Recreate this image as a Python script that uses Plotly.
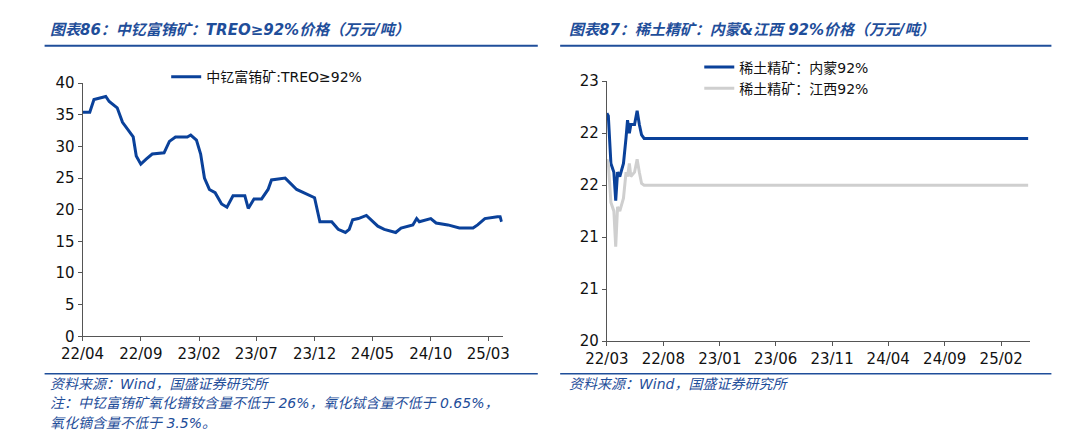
import plotly.graph_objects as go

# 左图：中钇富铕矿 TREO≥92%
left_dates = ["2022-04-01", "2022-04-20", "2022-05-01", "2022-06-01", "2022-06-10", "2022-07-01",
              "2022-07-15", "2022-08-01", "2022-08-12", "2022-08-20", "2022-09-01", "2022-09-15",
              "2022-10-01", "2022-11-01", "2022-11-15", "2022-12-01", "2023-01-01", "2023-01-10",
              "2023-01-25", "2023-02-05", "2023-02-15", "2023-02-28", "2023-03-15", "2023-04-01",
              "2023-04-15", "2023-05-01", "2023-06-01", "2023-06-10", "2023-06-25", "2023-07-15",
              "2023-08-01", "2023-08-10", "2023-09-15", "2023-10-15", "2023-11-15", "2023-12-01",
              "2023-12-15", "2024-01-15", "2024-02-01", "2024-02-20", "2024-03-01", "2024-03-10",
              "2024-03-25", "2024-04-15", "2024-05-15", "2024-06-01", "2024-07-01", "2024-07-15",
              "2024-08-15", "2024-08-25", "2024-09-01", "2024-10-01", "2024-10-15", "2024-11-15",
              "2024-12-15", "2025-01-20", "2025-02-01", "2025-02-20", "2025-03-25", "2025-04-01",
              "2025-04-05"]
left_vals = [35.4, 35.4, 37.4, 37.9, 37.1, 36.1, 33.8, 32.3, 31.5, 28.5, 27.2, 28.0,
             28.8, 29.0, 30.8, 31.5, 31.5, 31.8, 31.0, 28.8, 25.0, 23.2, 22.7, 20.9,
             20.4, 22.2, 22.2, 20.2, 21.7, 21.7, 23.2, 24.7, 25.0, 23.2, 22.4, 21.9,
             18.1, 18.1, 16.9, 16.4, 16.9, 18.4, 18.6, 19.1, 17.4, 16.9, 16.4, 17.1,
             17.6, 18.6, 18.1, 18.6, 17.9, 17.6, 17.1, 17.1, 17.6, 18.6, 18.9, 18.9,
             18.1]
left_ticks = ["2022-04-01", "2022-09-01", "2023-02-01", "2023-07-01", "2023-12-01",
              "2024-05-01", "2024-10-01", "2025-03-01"]
left_ticktext = ["22/04", "22/09", "23/02", "23/07", "23/12", "24/05", "24/10", "25/03"]

# 右图：稀土精矿 内蒙 / 江西
right_dates = ["2022-03-01", "2022-03-05", "2022-03-12", "2022-03-20", "2022-03-25", "2022-03-30",
               "2022-04-05", "2022-04-15", "2022-04-22", "2022-04-26", "2022-05-01", "2022-05-05",
               "2022-05-15", "2022-05-22", "2022-05-28", "2022-06-03", "2022-06-10", "2025-04-15"]
neimeng = [22.63, 22.6, 22.05, 21.95, 21.62, 21.95, 21.9, 22.05, 22.35, 22.55, 22.4, 22.5,
           22.5, 22.66, 22.5, 22.38, 22.34, 22.34]
jiangxi = [22.1, 22.05, 21.6, 21.5, 21.09, 21.55, 21.5, 21.65, 21.95, 21.9, 22.05, 21.9,
           21.95, 22.1, 21.95, 21.82, 21.8, 21.8]
right_ticks = ["2022-03-01", "2022-08-01", "2023-01-01", "2023-06-01", "2023-11-01",
               "2024-04-01", "2024-09-01", "2025-02-01"]
right_ticktext = ["22/03", "22/08", "23/01", "23/06", "23/11", "24/04", "24/09", "25/02"]
right_yvals = [20, 20.6, 21.2, 21.8, 22.4, 23]
right_ylabels = ["20", "21", "21", "22", "22", "23"]

BLUE = "#0A419A"
GREY = "#CFCFCF"
TXT = "#1F4E9A"
W, H = 1065, 437


def px(x):
    return x / W


def py(y):
    return 1 - y / H


fig = go.Figure()
fig.add_trace(go.Scatter(x=left_dates, y=left_vals, mode="lines", name="中钇富铕矿:TREO≥92%",
                         line=dict(color=BLUE, width=3), xaxis="x", yaxis="y", legend="legend"))
fig.add_trace(go.Scatter(x=right_dates, y=neimeng, mode="lines", name="稀土精矿：内蒙92%",
                         line=dict(color=BLUE, width=3), xaxis="x2", yaxis="y2", legend="legend2"))
fig.add_trace(go.Scatter(x=right_dates, y=jiangxi, mode="lines", name="稀土精矿：江西92%",
                         line=dict(color=GREY, width=3), xaxis="x2", yaxis="y2", legend="legend2"))

axis_common = dict(showgrid=False, zeroline=False, showline=True, linecolor="#555", linewidth=1,
                   ticks="outside", ticklen=4, tickcolor="#555", tickfont=dict(size=15, color="#111"))

fig.update_layout(
    width=W, height=H, margin=dict(l=0, r=0, t=0, b=0), showlegend=True,
    paper_bgcolor="white", plot_bgcolor="white",
    font=dict(family="DejaVu Sans, Noto Sans CJK SC", size=14, color="#111"),
    xaxis=dict(domain=[px(54), px(486)], anchor="y", range=["2022-04-01", "2025-04-08"],
               tickvals=left_ticks, ticktext=left_ticktext, **axis_common),
    yaxis=dict(domain=[py(333), py(69)], anchor="x", range=[0, 40], dtick=5, **axis_common),
    xaxis2=dict(domain=[px(593), px(1028)], anchor="y2", range=["2022-03-01", "2025-04-20"],
                tickvals=right_ticks, ticktext=right_ticktext, **axis_common),
    yaxis2=dict(domain=[py(338), py(67)], anchor="x2", range=[20, 23],
                tickvals=right_yvals, ticktext=right_ylabels, **axis_common),
    legend=dict(x=px(140), y=py(46), xanchor="left", yanchor="top", orientation="h",
                font=dict(size=14), bgcolor="rgba(0,0,0,0)"),
    legend2=dict(x=px(688), y=py(36), xanchor="left", yanchor="top",
                 font=dict(size=14), bgcolor="rgba(0,0,0,0)", tracegroupgap=0),
)

shapes = []
for x0, x1 in [(15, 522), (545, 1050)]:
    shapes.append(dict(type="line", xref="paper", yref="paper", x0=px(x0), x1=px(x1),
                       y0=py(30), y1=py(30), line=dict(color=TXT, width=2)))
    shapes.append(dict(type="line", xref="paper", yref="paper", x0=px(x0), x1=px(x1),
                       y0=py(372), y1=py(372), line=dict(color=TXT, width=1.5)))
fig.update_layout(shapes=shapes)

notes = [
    (18, 14, "<b><i>图表86：中钇富铕矿：TREO≥92%价格（万元/吨）</i></b>", 15),
    (552, 14, "<b><i>图表87：稀土精矿：内蒙&江西 92%价格（万元/吨）</i></b>", 15),
    (18, 383, "<i>资料来源：Wind，国盛证券研究所</i>", 14),
    (552, 383, "<i>资料来源：Wind，国盛证券研究所</i>", 14),
    (18, 403, "<i>注：中钇富铕矿氧化镨钕含量不低于 26%，氧化铽含量不低于 0.65%，</i>", 14),
    (18, 423, "<i>氧化镝含量不低于 3.5%。</i>", 14),
]
for x, y, t, s in notes:
    fig.add_annotation(x=px(x), y=py(y), xref="paper", yref="paper", text=t, showarrow=False,
                       xanchor="left", yanchor="middle",
                       font=dict(size=s, color=TXT, family="DejaVu Sans, Noto Sans CJK SC"))

fig.write_html("out.html")
